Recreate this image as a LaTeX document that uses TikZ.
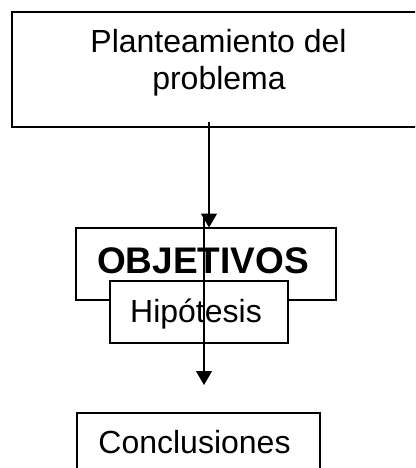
\documentclass[tikz,border=0pt]{standalone}
\usepackage{fontspec}
\setmainfont{Liberation Sans}
\usetikzlibrary{arrows.meta}
\begin{document}
\begin{tikzpicture}[x=1pt,y=-1pt,
  box/.style={draw=black,line width=1.4pt,fill=white,inner sep=0pt},
  lbl/.style={anchor=base,inner sep=0pt,font=\fontsize{32}{36}\selectfont},
  conn/.style={line width=1.4pt,-{Triangle[width=16pt,length=14pt]}}]
\useasboundingbox (0,0) rectangle (415,468);
\clip (0,0) rectangle (415,468);
\node[box,minimum width=413pt,minimum height=115pt] (plan) at (218.5,69.5) {};
\node[lbl] (plant1) at (218.5,53) {Planteamiento del};
\node[lbl] (plant2) at (219,90) {problema};
\node[box,minimum width=260pt,minimum height=72pt] (obj) at (206,264) {};
\node[lbl,font=\fontsize{37}{40}\selectfont\bfseries] (objt) at (203,273) {OBJETIVOS};
\coordinate (s1) at (209,122);
\coordinate (e1) at (209,227.5);
\draw[conn] (s1) -- (e1);
\node[box,minimum width=178pt,minimum height=62pt] (hip) at (199,312) {};
\node[lbl] (hipt) at (196,322) {Hipótesis};
\node[box,minimum width=243pt,minimum height=80pt] (conc) at (198.5,453) {};
\node[lbl] (conct) at (194.5,453) {Conclusiones};
\coordinate (s2) at (204,218);
\coordinate (e2) at (204,385);
\draw[conn] (s2) -- (e2);
\end{tikzpicture}
\end{document}
